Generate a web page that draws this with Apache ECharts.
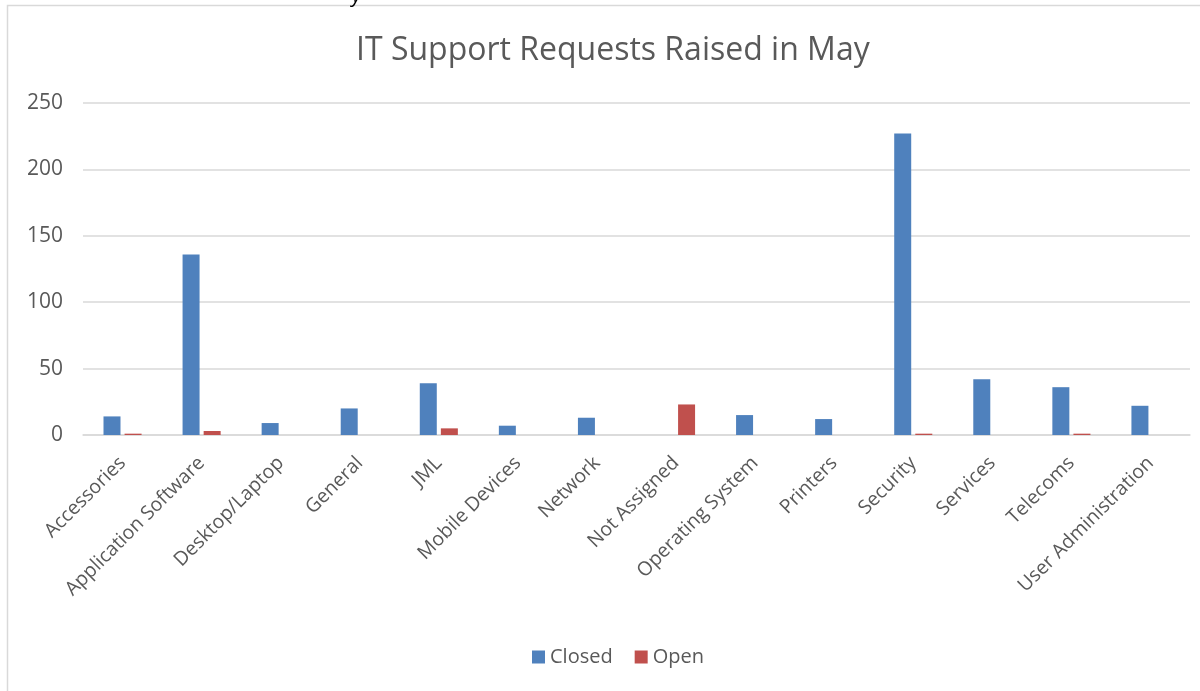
<!DOCTYPE html>
<html><head><meta charset="utf-8">
<script src="https://cdn.jsdelivr.net/npm/echarts@6/dist/echarts.min.js"></script>
<style>html,body{margin:0;padding:0;background:#fff}#c{width:1200px;height:691px}</style>
</head><body><div id="c"></div>
<script>
const categories = ["Accessories","Application Software","Desktop/Laptop","General","JML","Mobile Devices","Network","Not Assigned","Operating System","Printers","Security","Services","Telecoms","User Administration"];
const closedValues = [14,136,9,20,39,7,13,0,15,12,227,42,36,22];
const openValues = [1,3,0,0,5,0,0,23,0,0,1,0,1,0];
const yTicks = [0,50,100,150,200,250];

const font = "'Open Sans', 'Noto Sans', sans-serif";
const chart = echarts.init(document.getElementById('c'));
chart.setOption({
  animation:false,
  backgroundColor:'#fff',
  title:{text:'IT Support Requests Raised in May', left:351, top:30,
    textStyle:{fontFamily:font, fontSize:32, fontWeight:'normal', color:'#595959'}},
  graphic:[
    {type:'rect', shape:{x:7.5,y:5.5,width:1200,height:700}, style:{fill:'none', stroke:'#d9d9d9', lineWidth:1.5}, silent:true},
    {type:'text', left:352, top:-14, style:{text:'y', font:"italic 20px 'Open Sans'", fill:'#000'}}
  ],
  legend:{bottom:19, left:527, itemWidth:13, itemHeight:13, itemGap:22, icon:'rect',
    textStyle:{fontFamily:font, fontSize:20, color:'#595959'}, data:['Closed','Open']},
  grid:{left:83, right:10, top:103, bottom:256},
  xAxis:{type:'category', data:categories,
    axisLine:{lineStyle:{color:'#d9d9d9', width:1.5}}, axisTick:{show:false},
    axisLabel:{rotate:45, interval:0, fontFamily:font, fontSize:19.5, color:'#595959', margin:25}},
  yAxis:{type:'value', min:0, max:250, interval:50,
    axisLine:{show:false}, axisTick:{show:false},
    splitLine:{lineStyle:{color:'#d9d9d9', width:1.5}},
    axisLabel:{fontFamily:font, fontSize:21, color:'#595959', margin:20,
      formatter:v=>yTicks.includes(v)?String(v):''}},
  series:[
    {name:'Closed', type:'bar', data:closedValues, barWidth:17, barGap:'24%', itemStyle:{color:'#4F81BD'}},
    {name:'Open', type:'bar', data:openValues, barWidth:17, itemStyle:{color:'#C0504D'}}
  ]
});
</script></body></html>
